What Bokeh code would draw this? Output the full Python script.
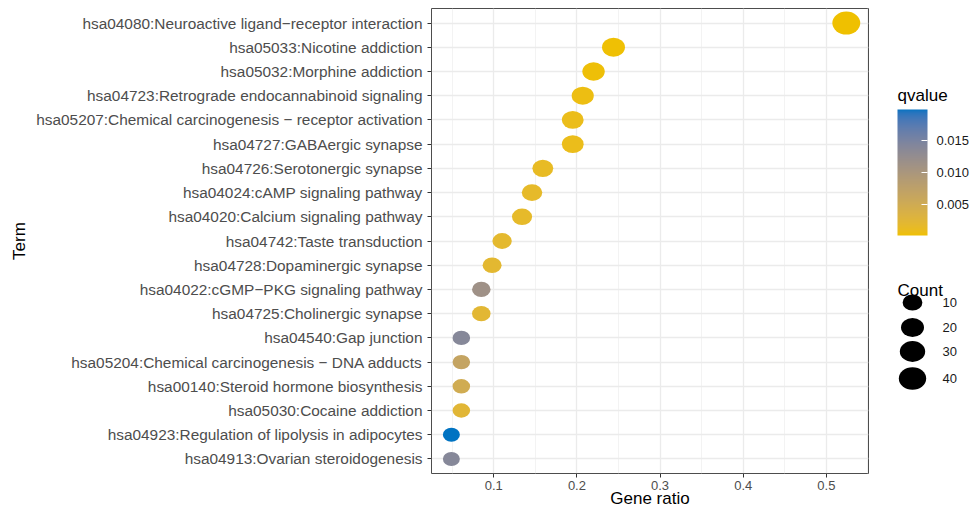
import numpy as np
from bokeh.plotting import figure
from bokeh.models import (ColumnDataSource, FactorRange, Range1d, FixedTicker,
                          LinearColorMapper, ColorBar, NumeralTickFormatter)
from bokeh.transform import transform
from bokeh.layouts import row
from bokeh.core.properties import value
from bokeh.embed import file_html
from bokeh.resources import INLINE

# ---------------- data ----------------
terms = [
    "hsa04080:Neuroactive ligand\u2212receptor interaction",
    "hsa05033:Nicotine addiction",
    "hsa05032:Morphine addiction",
    "hsa04723:Retrograde endocannabinoid signaling",
    "hsa05207:Chemical carcinogenesis \u2212 receptor activation",
    "hsa04727:GABAergic synapse",
    "hsa04726:Serotonergic synapse",
    "hsa04024:cAMP signaling pathway",
    "hsa04020:Calcium signaling pathway",
    "hsa04742:Taste transduction",
    "hsa04728:Dopaminergic synapse",
    "hsa04022:cGMP\u2212PKG signaling pathway",
    "hsa04725:Cholinergic synapse",
    "hsa04540:Gap junction",
    "hsa05204:Chemical carcinogenesis \u2212 DNA adducts",
    "hsa00140:Steroid hormone biosynthesis",
    "hsa05030:Cocaine addiction",
    "hsa04923:Regulation of lipolysis in adipocytes",
    "hsa04913:Ovarian steroidogenesis",
]
gene_ratio = [0.524, 0.244, 0.220, 0.207, 0.195, 0.195, 0.159, 0.146, 0.134,
              0.110, 0.098, 0.085, 0.085, 0.061, 0.061, 0.061, 0.061, 0.049, 0.049]
counts = [43, 20, 18, 17, 16, 16, 13, 12, 11, 9, 8, 7, 7, 5, 5, 5, 5, 4, 4]
qvalues = [0.0001, 0.0002, 0.0003, 0.0005, 0.0008, 0.0008, 0.0012, 0.0015, 0.0015,
           0.0018, 0.0020, 0.0113, 0.0022, 0.0138, 0.0066, 0.0048, 0.0024, 0.0198, 0.0138]
x_ticks = [0.1, 0.2, 0.3, 0.4, 0.5]
x_minor = [0.05, 0.15, 0.25, 0.35, 0.45, 0.55]
q_ticks = [0.005, 0.010, 0.015]
count_breaks = [10, 20, 30, 40]

# ---------------- colour palette (Lab interpolation, like ggplot) ----------------
def _hex_to_lab(h):
    rgb = np.array([int(h[i:i + 2], 16) for i in (1, 3, 5)]) / 255.0
    lin = np.where(rgb <= 0.04045, rgb / 12.92, ((rgb + 0.055) / 1.055) ** 2.4)
    M = np.array([[0.4124, 0.3576, 0.1805], [0.2126, 0.7152, 0.0722], [0.0193, 0.1192, 0.9505]])
    xyz = M @ lin / np.array([0.95047, 1.0, 1.08883])
    f = np.where(xyz > 0.008856, np.cbrt(xyz), 7.787 * xyz + 16 / 116)
    return np.array([116 * f[1] - 16, 500 * (f[0] - f[1]), 200 * (f[1] - f[2])])

def _lab_to_hex(lab):
    L, a, b = lab
    fy = (L + 16) / 116
    fx = fy + a / 500
    fz = fy - b / 200
    f = np.array([fx, fy, fz])
    xyz = np.where(f ** 3 > 0.008856, f ** 3, (f - 16 / 116) / 7.787) * np.array([0.95047, 1.0, 1.08883])
    Mi = np.array([[3.2406, -1.5372, -0.4986], [-0.9689, 1.8758, 0.0415], [0.0557, -0.2040, 1.0570]])
    lin = Mi @ xyz
    rgb = np.where(lin <= 0.0031308, 12.92 * lin, 1.055 * np.clip(lin, 0, None) ** (1 / 2.4) - 0.055)
    rgb = np.clip(np.round(rgb * 255), 0, 255).astype(int)
    return "#%02x%02x%02x" % tuple(rgb)

lo_lab, hi_lab = _hex_to_lab("#EFC000"), _hex_to_lab("#0073C2")
palette = [_lab_to_hex(lo_lab + (hi_lab - lo_lab) * t) for t in np.linspace(0, 1, 256)]
mapper = LinearColorMapper(palette=palette, low=min(qvalues), high=max(qvalues))

def dot_w(c):
    return 12.2 + 2.4 * np.sqrt(np.asarray(c, dtype=float))

FONT = "Liberation Sans"
H = 511
TOP, BOT = 8, 473   # frame edges in page pixels

# ---------------- main plot ----------------
src = ColumnDataSource(dict(term=terms, ratio=gene_ratio, count=counts, q=qvalues,
                            w=dot_w(counts), h=dot_w(counts) * 0.82))

p = figure(width=880, height=H,
           y_range=FactorRange(*terms[::-1], range_padding=0.1, range_padding_units="absolute"),
           x_range=Range1d(0.0251, 0.5507), output_backend="svg", toolbar_location=None,
           min_border_left=431, min_border_right=12, min_border_top=TOP,
           min_border_bottom=H - BOT)
p.ellipse(x="ratio", y="term", width="w", height="h", width_units="screen",
          height_units="screen", source=src, fill_color=transform("q", mapper), line_color=None)

p.background_fill_color = "white"
p.border_fill_color = "white"
p.outline_line_color = "#4d4d4d"
p.outline_line_width = 1

p.xaxis.ticker = FixedTicker(ticks=x_ticks, minor_ticks=x_minor)
p.xgrid.grid_line_color = "#EBEBEB"
p.xgrid.grid_line_width = 1.3
p.xgrid.minor_grid_line_color = "#F0F0F0"
p.xgrid.minor_grid_line_width = 0.8
p.ygrid.grid_line_color = "#EBEBEB"
p.ygrid.grid_line_width = 1.3

for ax in (p.xaxis[0], p.yaxis[0]):
    ax.axis_line_color = None
    ax.major_tick_line_color = "#333333"
    ax.major_tick_in = 0
    ax.major_tick_out = 4
    ax.minor_tick_line_color = None
    ax.major_label_text_color = "#4D4D4D"
    ax.major_label_text_font = FONT
    ax.axis_label_text_font = FONT
    ax.axis_label_text_font_style = "normal"
    ax.axis_label_text_color = "black"
    ax.axis_label_text_font_size = "17px"

p.xaxis.axis_label = "Gene ratio"
p.xaxis.major_label_text_font_size = "13px"
p.xaxis.major_label_standoff = 3
p.xaxis.axis_label_standoff = -4
p.yaxis.axis_label = "Term"
p.yaxis.major_label_text_font_size = "15.4px"
p.yaxis.major_label_standoff = 5
p.yaxis.axis_label_standoff = 4

# ---------------- legend panel (frame aligned with main frame) ----------------
LW = 96
lg = figure(width=LW, height=H, x_range=Range1d(0, LW), y_range=Range1d(BOT, TOP),
            output_backend="svg", toolbar_location=None, min_border=0,
            min_border_top=TOP, min_border_bottom=H - BOT,
            x_axis_location=None, y_axis_location=None)
lg.grid.visible = False
lg.outline_line_color = None
lg.background_fill_color = "white"
lg.border_fill_color = "white"

cb = ColorBar(color_mapper=mapper, ticker=FixedTicker(ticks=q_ticks),
              formatter=NumeralTickFormatter(format="0.000"),
              width=30, height=126, location=(17, BOT - 235), padding=0, margin=0,
              title=None,
              major_label_text_font=FONT, major_label_text_font_size="13px",
              major_label_text_color="#1a1a1a", label_standoff=9,
              major_tick_line_color="white", major_tick_in=6, major_tick_out=0,
              bar_line_color=None, background_fill_color=None, border_line_color=None)
lg.add_layout(cb, "center")

leg_y = [302, 327, 351, 378]
lsrc = ColumnDataSource(dict(x=[32] * 4, y=leg_y, w=dot_w(count_breaks),
                             h=dot_w(count_breaks) * 0.82, lab=[str(c) for c in count_breaks]))
lg.ellipse(x="x", y="y", width="w", height="h", width_units="screen", height_units="screen",
           source=lsrc, fill_color="black", line_color=None)
lg.text(x=62, y="y", text="lab", source=lsrc, text_font=value(FONT), text_font_size="13px",
        text_baseline="middle", text_color="#1a1a1a")
lg.text(x=[17, 17], y=[95, 290], text=["qvalue", "Count"], text_font=value(FONT),
        text_font_size="17px", text_baseline="middle", text_color="black")

layout = row(p, lg)
open("out.html", "w").write(file_html(layout, INLINE))
